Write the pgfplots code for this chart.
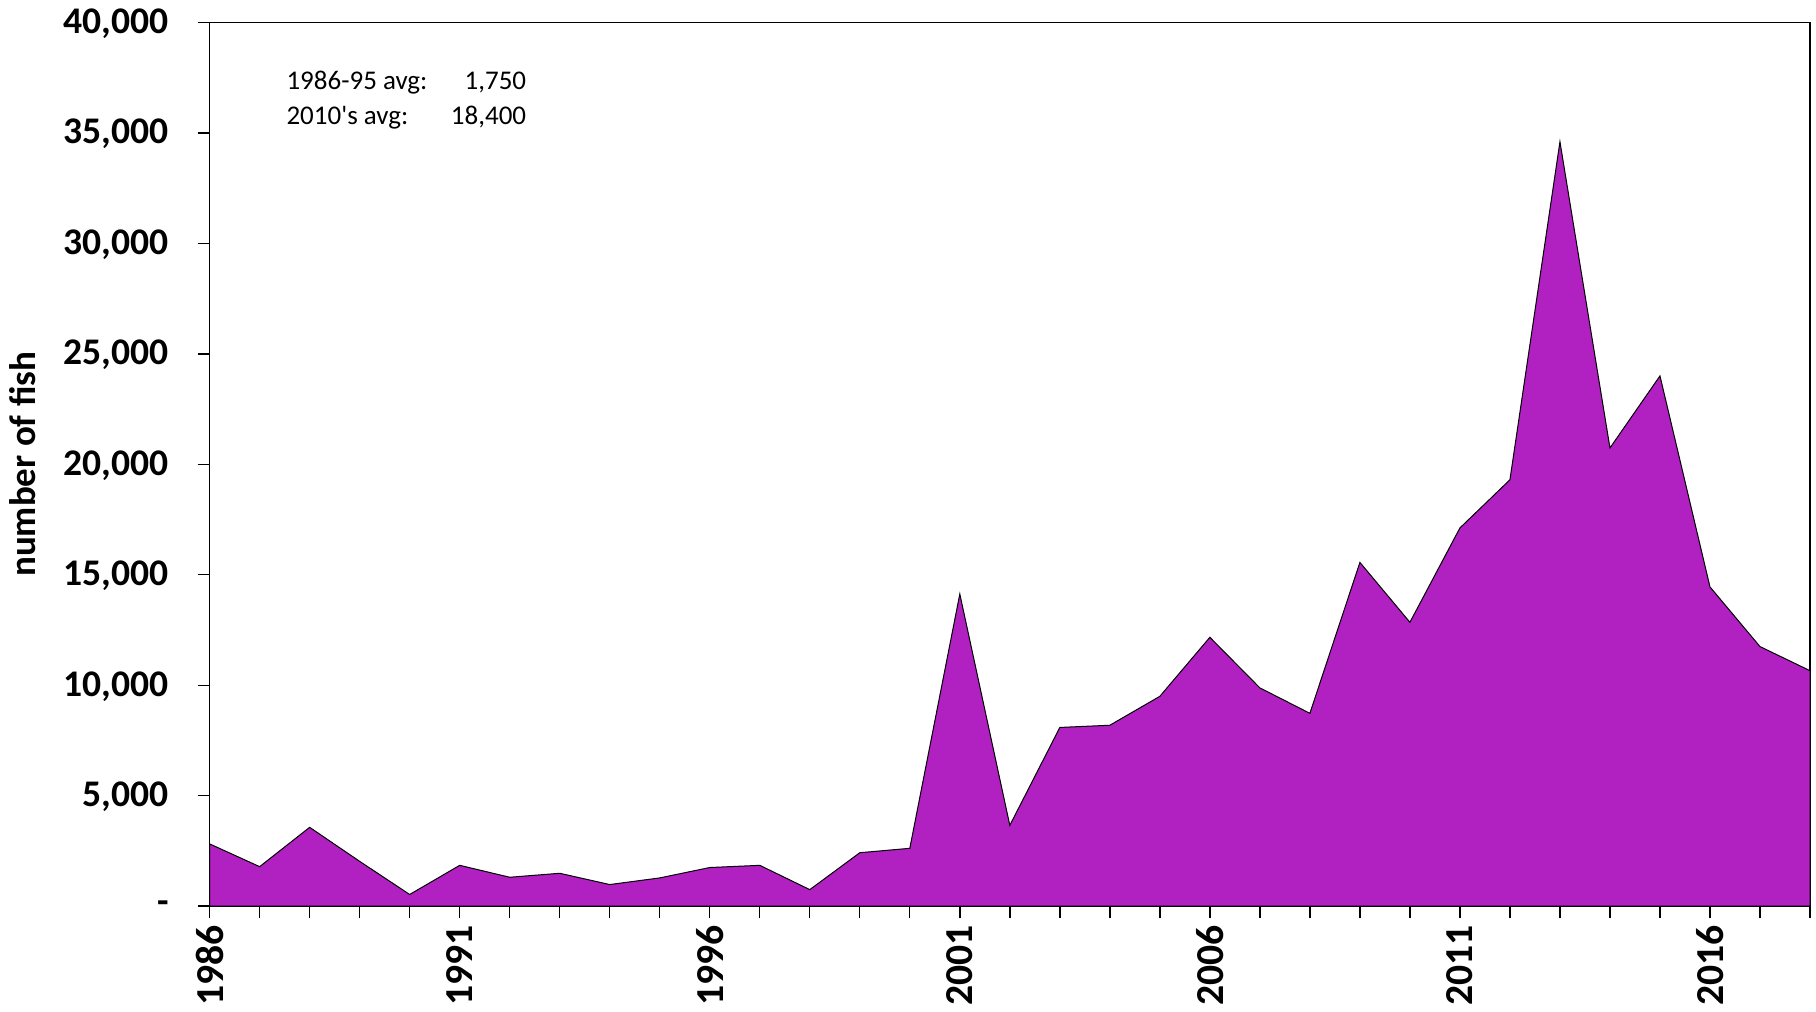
\documentclass[border=0pt]{standalone}
\usepackage{fontspec}
\setmainfont{Carlito}
\usepackage{pgfplots}
\pgfplotsset{compat=1.18}
\definecolor{fishfill}{RGB}{177,32,192}
\begin{document}
\begin{tikzpicture}
\begin{axis}[
  width=800pt, height=441.8pt, scale only axis,
  xmin=1986, xmax=2018, ymin=0, ymax=40000,
  axis line style={black, line width=0.8pt},
  tick style={black, line width=0.7pt},
  tick align=outside, major tick length=6pt, minor tick length=6pt,
  xtick={1986,1991,1996,2001,2006,2011,2016},
  xticklabels={1986,1991,1996,2001,2006,2011,2016},
  minor xtick={1987,1988,...,2018},
  ytick={0,5000,10000,15000,20000,25000,30000,35000,40000},
  yticklabels={{-\hspace{17pt}},{5,000},{10,000},{15,000},{20,000},{25,000},{30,000},{35,000},{40,000}},
  xtick pos=bottom, ytick pos=left,
  yticklabel style={font=\bfseries\fontsize{18.8}{20}\selectfont, anchor=east, xshift=-11pt, yshift=-0.5pt},
  xticklabel style={font=\bfseries\fontsize{19.8}{21}\selectfont, rotate=90, anchor=east},
  ylabel={number of fish},
  ylabel style={font=\bfseries\fontsize{18.5}{20}\selectfont, at={(axis description cs:-0.117,0.5)}, anchor=center},
  clip=false,
]
\addplot[fill=fishfill, draw=black, line width=0.5pt] table {
1986 2820
1987 1790
1988 3570
1989 2030
1990 530
1991 1850
1992 1310
1993 1490
1994 980
1995 1280
1996 1750
1997 1850
1998 750
1999 2420
2000 2620
2001 14130
2002 3660
2003 8090
2004 8190
2005 9500
2006 12170
2007 9880
2008 8730
2009 15560
2010 12850
2011 17120
2012 19300
2013 34600
2014 20740
2015 24000
2016 14450
2017 11750
2018 10660
} \closedcycle;
\node[anchor=base west, inner sep=0pt, font=\fontsize{13.5}{15}\selectfont] at (axis description cs:0.0478,0.924) {1986-95 avg:};
\node[anchor=base east, inner sep=0pt, font=\fontsize{13.5}{15}\selectfont] at (axis description cs:0.198,0.924) {1,750};
\node[anchor=base west, inner sep=0pt, font=\fontsize{13.5}{15}\selectfont] at (axis description cs:0.0478,0.885) {2010\textquotesingle s avg:};
\node[anchor=base east, inner sep=0pt, font=\fontsize{13.5}{15}\selectfont] at (axis description cs:0.198,0.885) {18,400};
\end{axis}
\pgfresetboundingbox
\path[use as bounding box] (-104.8pt,-52.5pt) rectangle (803pt,453pt);
\end{tikzpicture}
\end{document}
